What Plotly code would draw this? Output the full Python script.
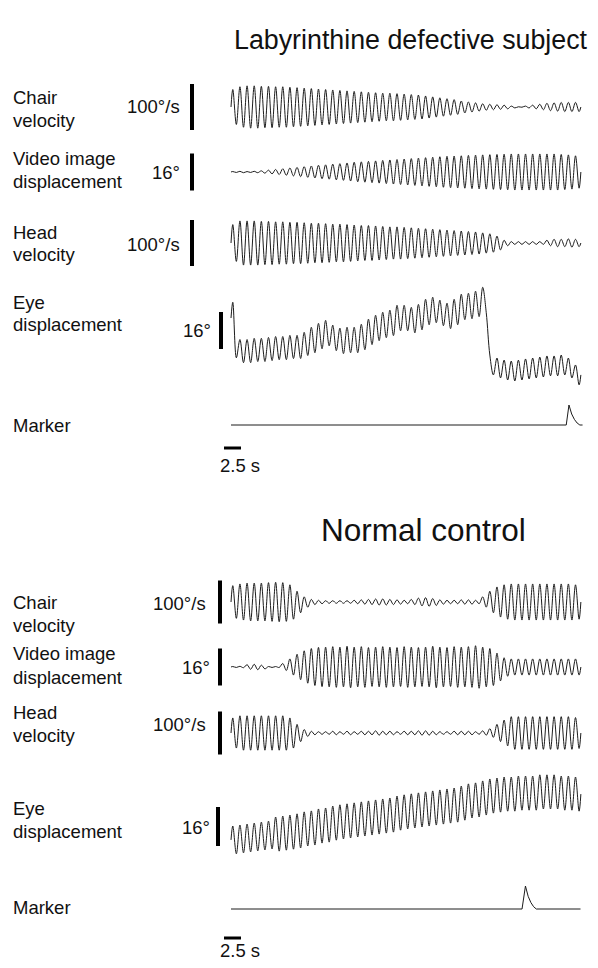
import plotly.graph_objects as go

W, H = 598, 968          # reference picture size
OFF = 8                  # page body margin of the browser
FW, FH = W - 2 * OFF, H - 2 * OFF
PX_PER_S = 6.8          # horizontal scale: 2.5 s bar = 17 px
X0_PX = 231             # left edge of traces
PERIOD = 1.05           # s per oscillation cycle

# ---------------- data ----------------
# Labyrinthine defective subject: per-cycle amplitudes
lab_chair_amp = [38, 44, 46, 46, 45, 45, 44, 44, 43, 42, 41, 40, 39, 38, 37, 36, 35, 34, 33, 32,
                 31, 30, 30, 29, 28, 27, 26, 24, 22, 20, 18, 16, 13, 11, 9, 7, 6, 5, 4, 2,
                 0.5, 2, 4, 6, 8, 9, 10, 10, 10]
lab_video_amp = [0.2, 0.3, 0.2, 0.3, 0.5, 0.8, 1.1, 1.4, 1.7, 2.0, 2.3, 2.6, 2.9, 3.1, 3.4, 3.6, 3.9,
                 4.2, 4.4, 4.6, 4.8, 5.0, 5.2, 5.4, 5.6, 5.8, 6.0, 6.2, 6.4, 6.6, 6.8, 6.9, 7.0, 7.2,
                 7.3, 7.4, 7.5, 7.6, 7.7, 7.8, 7.8, 7.8, 7.8, 7.8, 7.8, 7.8, 7.6, 7.4, 7.0]
lab_head_amp = [40, 48, 48, 48, 47, 47, 46, 46, 45, 45, 44, 43, 43, 42, 41, 41, 40, 39, 38, 38,
                37, 36, 35, 35, 34, 33, 32, 31, 30, 29, 28, 27, 26, 25, 24, 22, 20, 15, 6, 3,
                3, 3, 3, 3, 6, 8, 8, 9, 8]
lab_eye_start = 9.5
lab_eye_center = [4.3, -4.8, -4.8, -4.3, -4.3, -3.9, -3.5, -3.5, -3.0, -3.0, -1.7, 0.0, 1.7, 3.0,
                  0.9, -0.4, 0.0, 0.0, 1.3, 3.5, 5.2, 6.5, 7.4, 9.5, 9.5, 8.6, 9.9, 12.1, 13.0,
                  11.7, 10.4, 12.1, 14.3, 14.7, 15.6, 17.3, -10.8, -12.1, -13.0, -13.4, -13.0,
                  -12.5, -12.1, -11.7, -11.2, -11.2, -10.8, -12.1, -15.1]
lab_eye_amp = [12.0, 5.0, 5.0, 5.0, 5.0, 5.0, 5.0, 5.0, 5.0, 5.0, 5.0, 5.5, 5.5, 5.5, 5.5, 5.5, 5.5,
               5.5, 5.5, 5.5, 5.5, 5.5, 5.5, 5.5, 5.5, 5.5, 5.5, 5.5, 5.5, 5.5, 5.5, 5.5, 5.5, 5.5,
               5.5, 5.5, 4.3, 4.3, 4.3, 4.3, 4.3, 4.3, 4.3, 4.3, 4.3, 4.3, 4.3, 4.3, 4.3]
lab_marker_t = [0.0, 49.3, 49.7, 50.1, 50.5, 50.9, 51.3, 51.7]
lab_marker_v = [0.0, 0.0, 1.0, 0.55, 0.28, 0.1, 0.0, 0.0]

# Normal control
nor_chair_amp = [38, 42, 44, 44, 44, 45, 46, 45, 40, 25, 12, 6, 4, 3, 3, 3, 3, 4, 5, 6,
                 7, 7, 6, 5, 4, 6, 9, 10, 8, 5, 4, 4, 5, 5, 4, 12, 25, 35, 40, 42,
                 42, 42, 42, 42, 42, 42, 42, 42, 40]
nor_video_amp = [0.2, 0.3, 1.0, 1.2, 0.8, 0.2, 0.2, 1.5, 3.5, 5.5, 7.0, 8.0, 8.5, 8.6, 8.8, 8.6,
                 9.0, 8.6, 8.8, 8.4, 8.6, 8.8, 8.6, 8.4, 8.8, 8.6, 8.4, 8.6, 9.0, 8.6, 8.4, 8.8,
                 8.6, 8.8, 9.2, 8.6, 8.0, 6.0, 4.0, 3.5, 3.5, 3.5, 3.5, 3.5, 3.5, 3.5, 3.5, 3.5, 3.5]
nor_head_amp = [35, 40, 40, 40, 40, 40, 40, 40, 35, 20, 8, 4, 3, 3, 4, 3, 4, 3, 4, 4,
                5, 4, 4, 3, 4, 4, 5, 5, 4, 3, 3, 4, 4, 4, 3, 5, 10, 20, 30, 38,
                38, 38, 38, 38, 38, 38, 38, 38, 36]
nor_eye_start = -5.3
nor_eye_center = [-5.3, -4.9, -4.5, -4.1, -3.7, -3.3, -2.9, -2.5, -2.1, -1.6, -0.8, -0.4, 0.4, 0.8,
                  1.6, 2.1, 2.5, 2.9, 3.3, 3.7, 4.1, 4.5, 4.9, 5.7, 6.2, 6.6, 7.0, 7.4, 7.8, 8.2,
                  8.6, 9.0, 9.8, 10.7, 11.1, 11.9, 12.7, 13.1, 13.5, 13.5, 13.9, 13.9, 13.9, 14.4,
                  14.4, 14.4, 13.9, 13.9, 13.5]
nor_eye_amp = [5.7, 5.7, 5.7, 5.7, 5.7, 5.7, 7.0, 7.0, 7.0, 7.0, 7.0, 7.0, 7.0, 7.0, 7.0, 7.0, 7.0,
               7.0, 7.0, 7.0, 7.0, 7.0, 7.0, 7.0, 7.0, 7.0, 7.0, 7.0, 7.0, 7.0, 7.0, 7.0, 7.0, 7.0,
               7.0, 7.0, 7.0, 7.0, 7.0, 7.0, 7.0, 7.0, 7.0, 7.0, 7.0, 7.0, 7.0, 7.0, 7.0]
nor_marker_t = [0.0, 42.8, 43.3, 43.7, 44.1, 44.5, 44.9, 51.4]
nor_marker_v = [0.0, 0.0, 1.0, 0.55, 0.28, 0.1, 0.0, 0.0]

titles = ["Labyrinthine defective subject", "Normal control"]
row_labels = [["Chair", "velocity"], ["Video image", "displacement"], ["Head", "velocity"],
              ["Eye", "displacement"], ["Marker"]]
unit_labels = ["100°/s", "16°", "100°/s", "16°", None]
bar_sizes = [100, 16, 100, 16, None]
time_bar_s = 2.5

# ---------------- layout geometry (reference pixels) ----------------
# per row: top px, bottom px, px of value 0, px per unit
rows_geo = [
    (76, 140, 107, 46 / 100), (140, 198, 172, 37 / 16), (198, 268, 243, 46 / 100),
    (270, 396, 340, 37 / 16), (398, 438, 425, 20.0),
    (568, 632, 602, 43 / 100), (632, 700, 667, 37 / 16), (700, 762, 733, 43 / 100),
    (764, 872, 827, 39 / 16), (874, 922, 909, 23.0),
]
bar_geo = [(192, 0.0), (192, 0.0), (192, 0.0), (221, 4.1), None,
           (220, 0.0), (220, 0.0), (220, 0.0), (218, 0.2), None]
unit_right_px = [182, 182, 182, 213, None, 208, 212, 208, 212, None]
label_y = [[97, 120], [158, 181], [232, 255], [302, 325], [425],
           [602, 625], [653, 677], [712, 735], [808, 831], [907]]
unit_y = [107, 172, 244, 330, None, 603, 667, 724, 827, None]
title_x = [411, 423]
title_y = [40, 530]
title_size = [26.8, 31.5]
timebar_y = [448, 938]
timelabel_y = [465, 950]

LINE = "#1c1c1c"
FONT = "Liberation Sans, Arial, sans-serif"


def PX(px):
    return (px - OFF) / FW


def PY(py):
    return 1 - (py - OFF) / FH


def osc(center, amp, start):
    t, v = [0.0], [start]
    for i, (c, a) in enumerate(zip(center, amp)):
        t += [(i + 0.25) * PERIOD, (i + 0.75) * PERIOD]
        v += [c + a, c - a]
    t.append(len(amp) * PERIOD)
    v.append(center[-1])
    return t, v


def zeros(n):
    return [0.0] * n


series = [
    osc(zeros(len(lab_chair_amp)), lab_chair_amp, 0.0),
    osc(zeros(len(lab_video_amp)), lab_video_amp, 0.0),
    osc(zeros(len(lab_head_amp)), lab_head_amp, 0.0),
    osc(lab_eye_center, lab_eye_amp, lab_eye_start),
    (lab_marker_t, lab_marker_v),
    osc(zeros(len(nor_chair_amp)), nor_chair_amp, 0.0),
    osc(zeros(len(nor_video_amp)), nor_video_amp, 0.0),
    osc(zeros(len(nor_head_amp)), nor_head_amp, 0.0),
    osc(nor_eye_center, nor_eye_amp, nor_eye_start),
    (nor_marker_t, nor_marker_v),
]


def px_to_t(px):
    return (px - X0_PX) / PX_PER_S


fig = go.Figure()
layout = dict(
    width=FW, height=FH, margin=dict(l=0, r=0, t=0, b=0),
    paper_bgcolor="white", plot_bgcolor="rgba(0,0,0,0)", showlegend=False,
    font=dict(family=FONT, color="#111", size=18),
    xaxis=dict(domain=[0, 1], range=[px_to_t(OFF), px_to_t(OFF + FW)], visible=False,
               fixedrange=True),
)
shapes, annotations = [], []

for r, ((top, bot, zero, s), (t, v)) in enumerate(zip(rows_geo, series)):
    n = r + 1
    yname = "y" if n == 1 else f"y{n}"
    ykey = "yaxis" if n == 1 else f"yaxis{n}"
    layout[ykey] = dict(domain=[PY(bot), PY(top)],
                        range=[(zero - bot) / s, (zero - top) / s],
                        visible=False, fixedrange=True, anchor="x")
    is_marker = (r % 5 == 4)
    fig.add_trace(go.Scatter(
        x=t, y=v, xaxis="x", yaxis=yname, mode="lines", hoverinfo="skip",
        line=dict(color=LINE, width=1.0, shape="linear" if is_marker else "spline", smoothing=1.0),
    ))
    k = r % 5
    if bar_geo[r] is not None:
        bx, bc = bar_geo[r]
        half = bar_sizes[k] / 2
        shapes.append(dict(type="line", xref="x", yref=yname,
                           x0=px_to_t(bx), x1=px_to_t(bx), y0=bc - half, y1=bc + half,
                           line=dict(color="black", width=4)))
        annotations.append(dict(text=unit_labels[k], xref="paper", yref="paper",
                                x=PX(unit_right_px[r]), y=PY(unit_y[r]),
                                xanchor="right", yanchor="middle", showarrow=False,
                                font=dict(size=18.5)))
    for line_txt, ly in zip(row_labels[k], label_y[r]):
        annotations.append(dict(text=line_txt, xref="paper", yref="paper",
                                x=PX(11), y=PY(ly), xanchor="left", yanchor="middle",
                                showarrow=False, font=dict(size=18.5)))

for p in range(2):
    annotations.append(dict(text=titles[p], xref="paper", yref="paper",
                            x=PX(title_x[p]), y=PY(title_y[p]), xanchor="center", yanchor="middle",
                            showarrow=False, font=dict(size=title_size[p])))
    shapes.append(dict(type="line", xref="x", yref="paper",
                       x0=px_to_t(224), x1=px_to_t(224) + time_bar_s,
                       y0=PY(timebar_y[p]), y1=PY(timebar_y[p]),
                       line=dict(color="black", width=3)))
    annotations.append(dict(text=f"{time_bar_s} s", xref="paper", yref="paper",
                            x=PX(218), y=PY(timelabel_y[p]), xanchor="left", yanchor="middle",
                            showarrow=False, font=dict(size=18.5)))

layout["shapes"] = shapes
layout["annotations"] = annotations
fig.update_layout(**layout)
fig.write_html("out.html")
